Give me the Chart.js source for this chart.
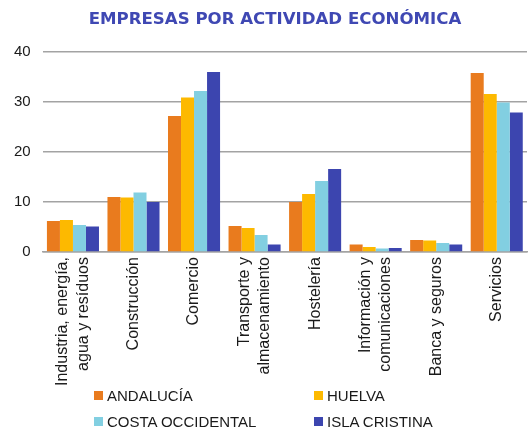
<!DOCTYPE html>
<html>
<head>
<meta charset="utf-8">
<script src="https://cdn.jsdelivr.net/npm/chart.js@4/dist/chart.umd.min.js"></script>
<style>
  body { margin: 0; background: #fff; }
  #wrap { position: relative; width: 528px; height: 428px; font-family: "Liberation Sans", Arial, sans-serif; }
  #box { position: absolute; left: 0; top: 0; width: 528px; height: 391px; }
  #title { position: absolute; left: 0; top: 11px; width: 550px; text-align: center; font-family: "DejaVu Sans", sans-serif; font-weight: bold; font-size: 16.6px; color: #3F48B3; line-height: 1; }
  #legend { position: absolute; left: 0; top: 0; width: 528px; height: 428px; pointer-events: none; }
  .item { position: absolute; display: flex; align-items: center; font-size: 15px; color: #1a1a1a; line-height: 1; }
  .item span.sw { display: inline-block; width: 9px; height: 9px; margin-right: 4px; }
</style>
</head>
<body>
<div id="wrap">
  <div id="box"><canvas id="chart"></canvas></div>
  <div id="title"></div>
  <div id="legend"></div>
</div>
<script>
let chartTitle = 'EMPRESAS POR ACTIVIDAD ECONÓMICA';
let categories = [
    ["Industria, energía,", "agua y resíduos"],
    "Construcción",
    "Comercio",
    ["Transporte y", "almacenamiento"],
    "Hostelería",
    ["Información y", "comunicaciones"],
    "Banca y seguros",
    "Servicios"
];
let andalucia = [6.2, 11.0, 27.2, 5.2, 10.0, 1.5, 2.4, 35.8];
let huelva = [6.4, 10.9, 30.9, 4.8, 11.6, 1.0, 2.3, 31.6];
let costaOccidental = [5.4, 11.9, 32.2, 3.4, 14.2, 0.7, 1.8, 29.9];
let islaCristina = [5.1, 10.0, 36.0, 1.5, 16.6, 0.8, 1.5, 27.9];
let yTicks = [0, 10, 20, 30, 40];

let seriesNames = ["ANDALUCÍA", "HUELVA", "COSTA OCCIDENTAL", "ISLA CRISTINA"];
let colors = ['#E97B1E', '#FDB900', '#82CFE1', '#3C45AF'];

function dataset(i, values) {
    return {
        label: seriesNames[i],
        data: values,
        backgroundColor: colors[i],
        borderWidth: 0,
        categoryPercentage: 0.86,
        barPercentage: 1.0
    };
}

document.getElementById('title').textContent = chartTitle;

// rotated labels with two lines start on the tick, so move them back to center
var centerLines = {
    id: 'centerLines',
    afterLayout: function (chart) {
        var x = chart.scales.x;
        var items = x.getLabelItems();
        items.forEach(function (item) {
            if (Array.isArray(item.label) && item.label.length > 1) {
                item.options.translation[0] -= (item.label.length - 1) * item.font.lineHeight / 2;
            }
        });
    }
};

var ctx = document.getElementById('chart');
var myChart = new Chart(ctx, {
    type: 'bar',
    data: {
        labels: categories,
        datasets: [
            dataset(0, andalucia),
            dataset(1, huelva),
            dataset(2, costaOccidental),
            dataset(3, islaCristina)
        ]
    },
    plugins: [centerLines],
    options: {
        responsive: true,
        maintainAspectRatio: false,
        animation: false,
        layout: { padding: { left: 2, right: 1, top: 52, bottom: 0 } },
        plugins: {
            legend: { display: false },
            tooltip: { enabled: false },
            title: { display: false }
        },
        scales: {
            x: {
                grid: { display: false, drawTicks: false },
                border: { display: true, color: '#a3a3a3', width: 1.5 },
                ticks: {
                    color: '#1a1a1a',
                    font: { family: 'Liberation Sans', size: 16, lineHeight: 1.3 },
                    minRotation: 90,
                    maxRotation: 90,
                    autoSkip: false,
                    padding: 5
                }
            },
            y: {
                min: yTicks[0],
                max: yTicks[yTicks.length - 1],
                afterBuildTicks: function (axis) {
                    axis.ticks = yTicks.map(function (v) { return { value: v }; });
                },
                grid: { color: '#a3a3a3', lineWidth: 1.5, drawTicks: false },
                border: { display: false },
                ticks: {
                    color: '#1a1a1a',
                    font: { family: 'Liberation Sans', size: 15 },
                    padding: 12
                }
            }
        }
    }
});

// legend in two columns, built from the chart datasets
var legend = document.getElementById('legend');
var spots = [[94, 396], [314, 396], [94, 422], [314, 422]];
myChart.data.datasets.forEach(function (ds, i) {
    var d = document.createElement('div');
    d.className = 'item';
    d.style.left = spots[i][0] + 'px';
    d.style.top = (spots[i][1] - 8) + 'px';
    d.innerHTML = '<span class="sw" style="background:' + ds.backgroundColor + '"></span>' + ds.label;
    legend.appendChild(d);
});
</script>
</body>
</html>
